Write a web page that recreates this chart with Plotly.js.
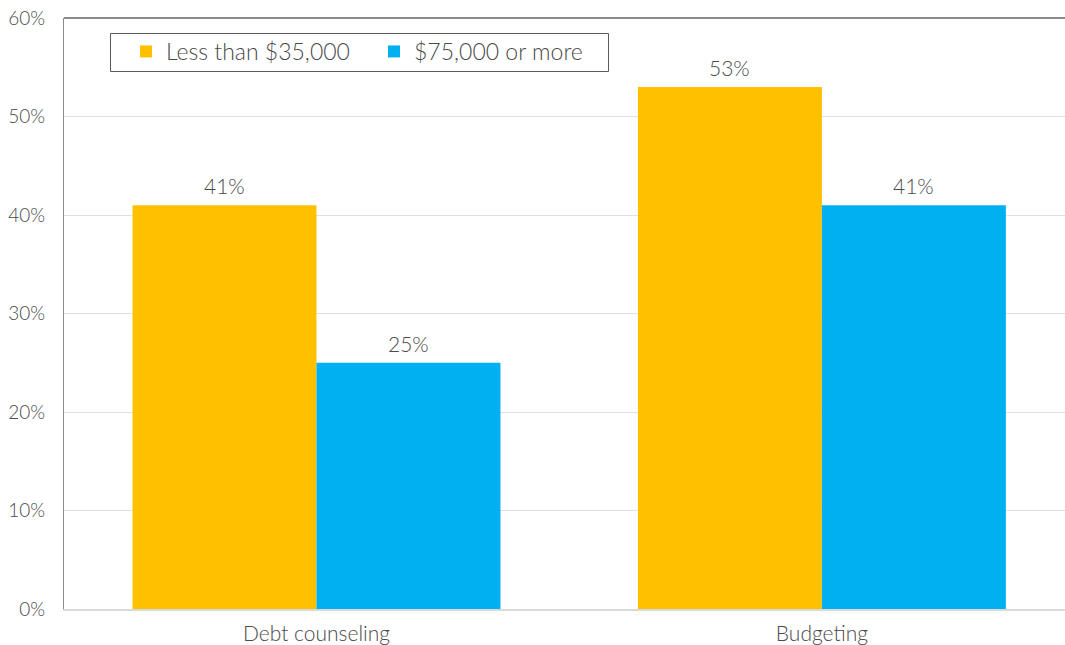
<!DOCTYPE html>
<html><head><meta charset="utf-8">
<script src="https://cdn.plot.ly/plotly-3.0.1.min.js"></script>
<style>body{margin:0;padding:0;background:#fff}#chart{width:1065px;height:645px}</style>
</head><body><div id="chart"></div>
<script>
const categories = ["Debt counseling", "Budgeting"];
const seriesNames = ["Less than $35,000", "$75,000 or more"];
const lowIncome = [0.41, 0.53];
const highIncome = [0.25, 0.41];
const colors = ["#FFC000", "#00B0F0"];
const fontFam = "Lato, 'Open Sans', sans-serif";
const txtColor = "#4a4a4a";

const mk = (name, vals, color) => ({
  type: "bar", name: name, x: categories, y: vals,
  marker: {color: color},
  hoverinfo: "skip"
});

const data = [mk(seriesNames[0], lowIncome, colors[0]), mk(seriesNames[1], highIncome, colors[1])];

const annotations = [];
[[lowIncome, -92], [highIncome, 92]].forEach(([vals, xs]) => {
  vals.forEach((v, i) => annotations.push({
    x: categories[i], y: v, xref: "x", yref: "y", xshift: xs, yshift: 5,
    yanchor: "bottom", showarrow: false, text: Math.round(v*100) + "%",
    font: {family: fontFam, size: 21, color: txtColor, weight: 300}
  }));
});

const W = 1001, H = 591, L = 64, T = 18;
const px = x => (x - L) / W;
const py = y => (T + H - y) / H;

const layout = {
  width: 1065, height: 645,
  margin: {l: 64, r: 0, t: 18, b: 36},
  paper_bgcolor: "#fff", plot_bgcolor: "#fff",
  barmode: "group", bargap: 0.272, bargroupgap: 0,
  font: {family: fontFam, color: txtColor, size: 18, weight: 300},
  xaxis: {range: [-0.4995, 1.481], showline: true, linecolor: "#d9d9d9", linewidth: 2, ticks: "",
          ticklabelstandoff: 5, tickfont: {size: 21, color: txtColor, weight: 300}},
  yaxis: {range: [0, 0.6], dtick: 0.1, tickformat: ".0%", showgrid: true, gridcolor: "#e0e0e0", gridwidth: 1,
          showline: true, linecolor: "#8c8c8c", linewidth: 1, ticks: "", zeroline: false,
          ticklabelstandoff: 14, tickfont: {size: 19, color: txtColor, weight: 300}},
  showlegend: true,
  legend: {orientation: "h", x: px(126), y: py(30), xanchor: "left", yanchor: "top",
           borderwidth: 0, bgcolor: "rgba(0,0,0,0)", entrywidth: 203, entrywidthmode: "pixels",
           font: {size: 23, color: txtColor, weight: 300}, itemwidth: 30, traceorder: "normal"},
  annotations: annotations,
  shapes: [
    {type: "line", xref: "paper", yref: "paper", x0: 0, x1: 1, y0: 1, y1: 1,
     line: {color: "#8c8c8c", width: 2}},
    {type: "rect", xref: "paper", yref: "paper", x0: px(110.5), x1: px(608.5), y0: py(33.5), y1: py(71.5),
     line: {color: "#595959", width: 1}, fillcolor: "#fff", layer: "above"}
  ]
};
Plotly.newPlot("chart", data, layout, {displayModeBar: false, staticPlot: true});
</script></body></html>
